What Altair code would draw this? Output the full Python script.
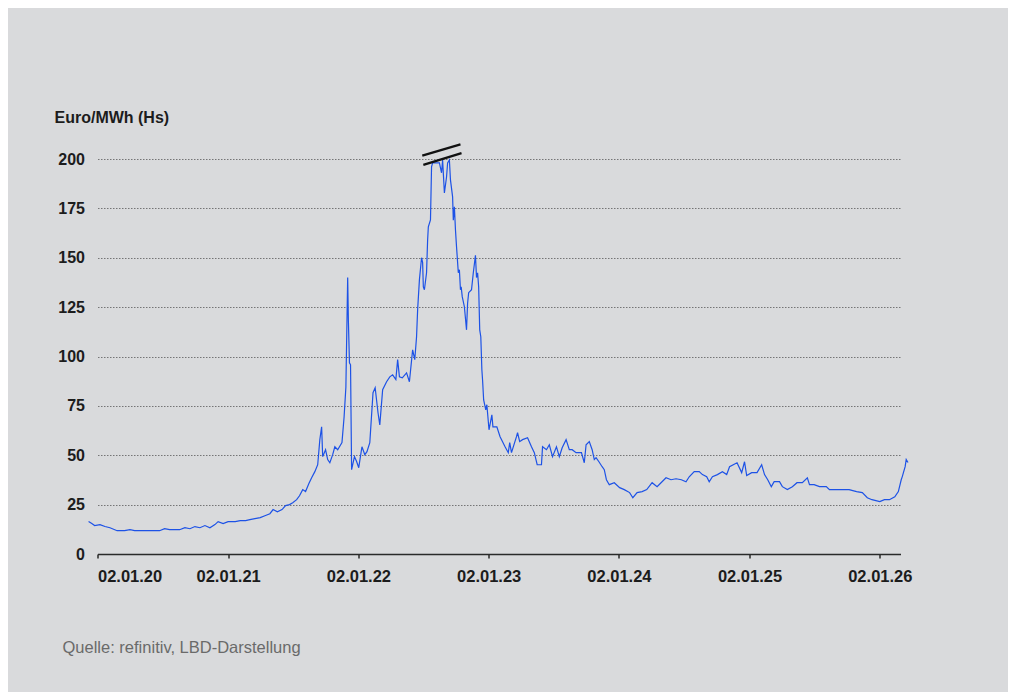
import altair as alt
import pandas as pd

dates = [
    "2019-12-08", "2019-12-17", "2019-12-25", "2020-01-09", "2020-01-23", "2020-02-06", "2020-02-26",
    "2020-03-18", "2020-04-02", "2020-04-15", "2020-05-27", "2020-06-24", "2020-07-08", "2020-07-22",
    "2020-08-19", "2020-09-03", "2020-09-17", "2020-10-01", "2020-10-15", "2020-10-29", "2020-11-12",
    "2020-11-26", "2020-12-05", "2020-12-19", "2021-01-02", "2021-01-22", "2021-02-05", "2021-02-20",
    "2021-03-04", "2021-03-18", "2021-04-02", "2021-04-15", "2021-04-29", "2021-05-08", "2021-05-20",
    "2021-06-02", "2021-06-12", "2021-06-23", "2021-07-02", "2021-07-13", "2021-07-21", "2021-07-30",
    "2021-08-07", "2021-08-16", "2021-08-24", "2021-09-02", "2021-09-10", "2021-09-16", "2021-09-21",
    "2021-09-24", "2021-10-02", "2021-10-08", "2021-10-14", "2021-10-22", "2021-10-28", "2021-11-05",
    "2021-11-17", "2021-11-23", "2021-11-28", "2021-12-03", "2021-12-05", "2021-12-08", "2021-12-11",
    "2021-12-14", "2021-12-22", "2021-12-28", "2022-01-03", "2022-01-12", "2022-01-20", "2022-01-26",
    "2022-02-03", "2022-02-12", "2022-02-18", "2022-02-26", "2022-03-03", "2022-03-11", "2022-03-22",
    "2022-03-31", "2022-04-08", "2022-04-17", "2022-04-22", "2022-04-27", "2022-05-05", "2022-05-17",
    "2022-05-25", "2022-06-03", "2022-06-09", "2022-06-14", "2022-06-17", "2022-06-22", "2022-06-28",
    "2022-07-01", "2022-07-03", "2022-07-06", "2022-07-12", "2022-07-15", "2022-07-17", "2022-07-23",
    "2022-07-26", "2022-07-29", "2022-08-05", "2022-08-17", "2022-08-23", "2022-08-26", "2022-08-31",
    "2022-09-06", "2022-09-09", "2022-09-14", "2022-09-17", "2022-09-23", "2022-09-25", "2022-09-28",
    "2022-10-01", "2022-10-04", "2022-10-09", "2022-10-12", "2022-10-15", "2022-10-17", "2022-10-20",
    "2022-10-26", "2022-11-01", "2022-11-04", "2022-11-07", "2022-11-15", "2022-11-20", "2022-11-26",
    "2022-11-29", "2022-12-02", "2022-12-05", "2022-12-08", "2022-12-11", "2022-12-14", "2022-12-16",
    "2022-12-19", "2022-12-25", "2022-12-28", "2023-01-03", "2023-01-11", "2023-01-14", "2023-01-25",
    "2023-02-03", "2023-02-17", "2023-02-26", "2023-03-02", "2023-03-07", "2023-03-21", "2023-03-24",
    "2023-03-30", "2023-04-07", "2023-04-21", "2023-05-02", "2023-05-10", "2023-05-18", "2023-05-30",
    "2023-06-02", "2023-06-13", "2023-06-21", "2023-06-30", "2023-07-11", "2023-07-19", "2023-07-27",
    "2023-08-07", "2023-08-16", "2023-08-24", "2023-09-04", "2023-09-19", "2023-09-27", "2023-10-02",
    "2023-10-11", "2023-10-19", "2023-10-25", "2023-10-30", "2023-11-07", "2023-11-16", "2023-11-22",
    "2023-11-28", "2023-12-06", "2023-12-20", "2024-01-04", "2024-01-17", "2024-02-01", "2024-02-10",
    "2024-02-22", "2024-03-07", "2024-03-20", "2024-04-04", "2024-04-18", "2024-04-29", "2024-05-13",
    "2024-05-27", "2024-06-10", "2024-06-25", "2024-07-08", "2024-07-17", "2024-07-31", "2024-08-14",
    "2024-08-23", "2024-09-04", "2024-09-11", "2024-09-20", "2024-10-04", "2024-10-18", "2024-10-30",
    "2024-11-07", "2024-11-28", "2024-12-11", "2024-12-19", "2024-12-25", "2025-01-08", "2025-01-23",
    "2025-02-05", "2025-02-13", "2025-02-22", "2025-03-04", "2025-03-12", "2025-03-27", "2025-04-04",
    "2025-04-18", "2025-05-02", "2025-05-15", "2025-05-30", "2025-06-13", "2025-06-19", "2025-07-02",
    "2025-07-17", "2025-08-05", "2025-08-14", "2025-09-03", "2025-09-20", "2025-10-08", "2025-10-29",
    "2025-11-14", "2025-11-28", "2025-12-11", "2026-01-02", "2026-01-15", "2026-01-29", "2026-02-13",
    "2026-02-23", "2026-03-03", "2026-03-06", "2026-03-14", "2026-03-17", "2026-03-22",
]

prices = [
    16.4, 15.4, 14.4, 14.9, 13.9, 13.3, 11.8,
    11.8, 12.3, 11.8, 11.8, 11.8, 12.8, 12.3,
    12.3, 13.3, 12.8, 13.9, 13.3, 14.4, 13.3,
    14.9, 16.4, 15.4, 16.4, 16.4, 16.9, 16.9,
    17.4, 17.9, 18.4, 19.4, 20.4, 22.5, 21.4,
    22.5, 24.5, 25.0, 26.0, 27.5, 29.5, 32.6,
    31.6, 35.6, 38.6, 41.7, 45.2, 57.9, 64.4,
    49.3, 52.8, 47.8, 46.2, 50.3, 54.3, 52.8,
    56.4, 69.5, 84.6, 140.0, 118.0, 96.8, 95.8,
    42.7, 49.3, 46.8, 43.7, 54.3, 50.3, 51.8,
    56.4, 81.7, 84.2, 71.5, 65.4, 83.2, 87.2,
    89.7, 90.7, 88.3, 98.4, 89.7, 89.2, 91.7,
    87.2, 103.4, 98.4, 110.0, 123.6, 138.8, 150.0,
    147.5, 135.3, 133.8, 142.4, 159.0, 165.7, 169.2,
    196.0, 198.0, 198.0, 198.0, 193.0, 199.5, 182.8,
    190.9, 198.0, 199.5, 189.4, 180.8, 169.0, 175.8,
    164.2, 155.6, 142.4, 143.9, 133.8, 135.3, 130.3,
    125.2, 113.5, 127.0, 132.3, 133.8, 142.4, 151.2,
    140.0, 142.4, 135.3, 113.5, 110.0, 93.3, 88.0,
    78.0, 73.0, 75.6, 62.9, 70.5, 64.4, 64.4,
    59.4, 54.3, 51.3, 56.4, 51.3, 59.4, 61.4,
    56.9, 57.9, 58.9, 54.3, 51.3, 45.2, 45.2,
    54.3, 52.8, 55.3, 49.3, 54.3, 49.3, 53.8,
    57.9, 52.8, 52.8, 51.3, 51.3, 46.2, 55.3,
    56.9, 52.8, 47.8, 48.8, 46.7, 44.2, 42.7,
    37.6, 35.1, 36.1, 33.6, 32.6, 31.1, 28.5,
    31.1, 31.6, 32.6, 36.1, 34.1, 36.1, 38.6,
    37.6, 38.1, 37.6, 36.6, 39.1, 41.7, 41.7,
    40.2, 39.1, 36.6, 39.1, 40.2, 41.7, 40.2,
    44.2, 46.2, 41.2, 46.7, 39.7, 41.2, 41.2,
    45.2, 40.2, 37.6, 34.1, 36.6, 36.6, 34.1,
    32.6, 34.1, 36.1, 36.1, 38.6, 35.1, 35.1,
    34.1, 34.1, 32.6, 32.6, 32.6, 32.6, 31.6,
    31.1, 28.5, 27.5, 26.5, 27.5, 27.5, 29.0,
    31.6, 37.6, 39.2, 44.2, 47.8, 46.3,
]

# axis break marker (two parallel strokes above the clipped peak)
break_start = ["2022-06-30", "2022-07-03"]
break_end = ["2022-10-15", "2022-10-18"]
break_low = [201.7, 197.0]
break_high = [207.4, 203.0]

y_ticks = [0, 25, 50, 75, 100, 125, 150, 175, 200]
x_tick_years = [2020, 2021, 2022, 2023, 2024, 2025, 2026]

df = pd.DataFrame({"datum": dates, "preis": prices})
df_break = pd.DataFrame({"x1": break_start, "x2": break_end, "y1": break_low, "y2": break_high})

BG = "#d9dadc"
TXT = "#1c1c1c"

x_scale = alt.Scale(domain=[alt.DateTime(year=2020, month=1, date=2),
                            alt.DateTime(year=2026, month=3, date=1)])
y_scale = alt.Scale(domain=[0, 200])

line = alt.Chart(df).mark_line(color="#1d52e6", strokeWidth=1.2, clip=False).encode(
    x=alt.X("datum:T", scale=x_scale,
            axis=alt.Axis(
                values=[alt.DateTime(year=y, month=1, date=2) for y in x_tick_years],
                format="%d.%m.%y", labelFont="Liberation Sans", labelFontSize=16.5,
                labelFontWeight="bold", labelColor=TXT, labelPadding=10.5,
                domainColor="#2a2a2a", domainWidth=1.5, tickColor="#2a2a2a", tickWidth=1.5,
                tickSize=4, grid=False, labelOverlap=False,
                title="Quelle: refinitiv, LBD-Darstellung", titleFont="Liberation Sans",
                titleFontSize=16.5, titleFontWeight="normal", titleColor="#6a6a6a",
                titleAlign="left", titleBaseline="middle", titleAnchor="start",
                titleX=-35.5, titleY=93)),
    y=alt.Y("preis:Q", scale=y_scale,
            axis=alt.Axis(
                values=y_ticks, labelFont="Liberation Sans", labelFontSize=16,
                labelFontWeight="bold", labelColor=TXT, labelPadding=13,
                domain=False, ticks=False, grid=True, gridColor="#6a6a6a",
                gridDash=[1.5, 1.5], gridWidth=0.9,
                title="Euro/MWh (Hs)", titleFont="Liberation Sans", titleFontSize=16,
                titleFontWeight="bold", titleColor=TXT, titleAngle=0, titleAlign="left",
                titleBaseline="middle", titleX=-43.5, titleY=-42)),
)

brk = alt.Chart(df_break).mark_rule(color="#111111", strokeWidth=2.2, clip=False).encode(
    x=alt.X("x1:T", scale=x_scale),
    x2="x2:T",
    y=alt.Y("y1:Q", scale=y_scale),
    y2="y2:Q",
)

chart = alt.layer(line, brk).properties(
    width=803,
    height=395,
    background=BG,
    padding={"left": 89.5, "top": 151, "right": 107.5, "bottom": 138},
    autosize=alt.AutoSizeParams(type="none"),
).configure_view(stroke=None)

chart.save("out.html", embed_options={"renderer": "svg", "actions": False})
